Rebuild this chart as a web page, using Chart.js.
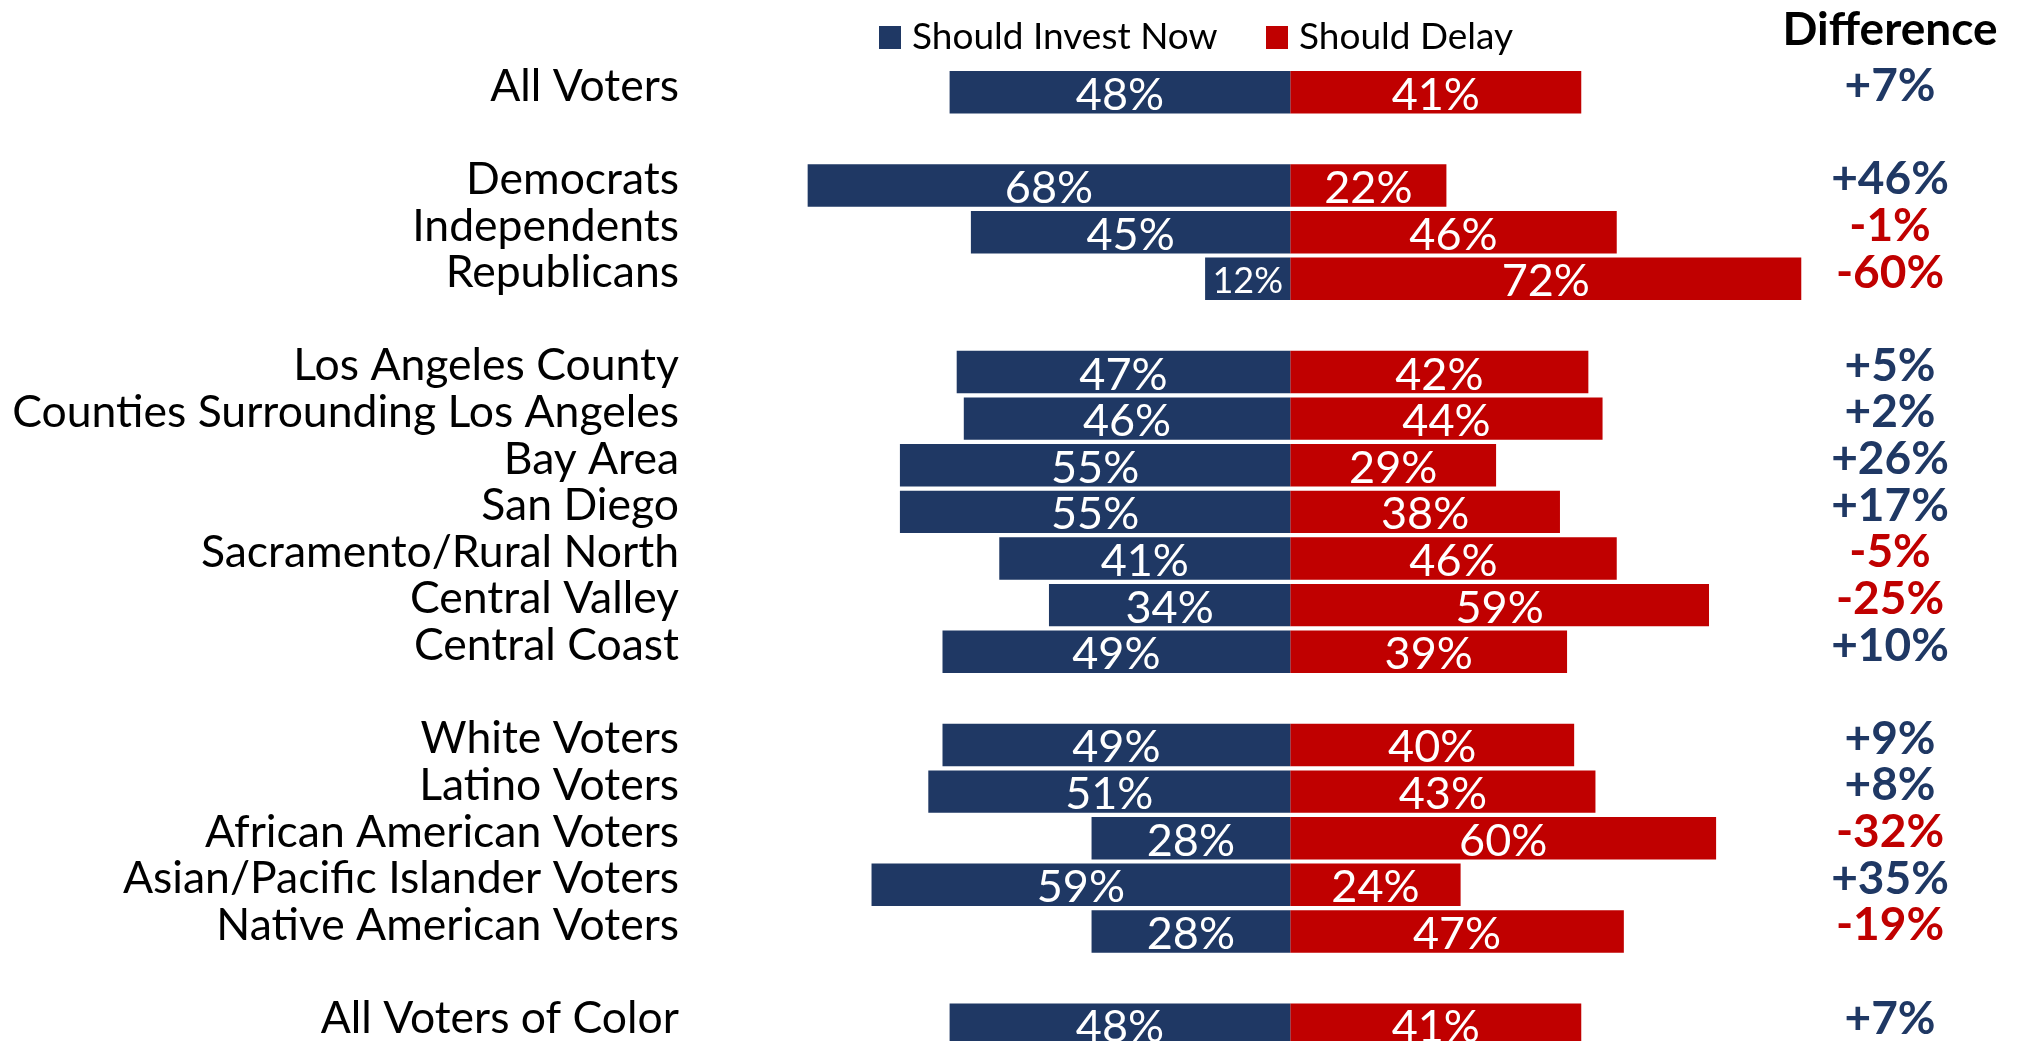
<!DOCTYPE html>
<html>
<head>
<meta charset="utf-8">
<script src="https://cdn.jsdelivr.net/npm/chart.js@4/dist/chart.umd.min.js"></script>
<style>
  html, body { margin: 0; padding: 0; background: #fff; overflow: hidden; }
  canvas { display: block; }
</style>
</head>
<body>
<canvas id="voteChart" width="2019" height="1050"></canvas>
<script>
// Values
const categories = [
  'All Voters', '',
  'Democrats', 'Independents', 'Republicans', '',
  'Los Angeles County', 'Counties Surrounding Los Angeles', 'Bay Area', 'San Diego',
  'Sacramento/Rural North', 'Central Valley', 'Central Coast', '',
  'White Voters', 'Latino Voters', 'African American Voters',
  'Asian/Pacific Islander Voters', 'Native American Voters', '',
  'All Voters of Color'
];
const investNow = [48, null, 68, 45, 12, null, 47, 46, 55, 55, 41, 34, 49, null, 49, 51, 28, 59, 28, null, 48];
const delay     = [41, null, 22, 46, 72, null, 42, 44, 29, 38, 46, 59, 39, null, 40, 43, 60, 24, 47, null, 41];
const difference = ['+7%', '', '+46%', '-1%', '-60%', '', '+5%', '+2%', '+26%', '+17%', '-5%', '-25%', '+10%', '',
                    '+9%', '+8%', '-32%', '+35%', '-19%', '', '+7%'];

const NAVY = '#1F3864';
const RED = '#C00000';
const FONT = 'Lato, "Open Sans", sans-serif';

// white percentages inside the bars, difference column, legend and header
const labelsPlugin = {
  id: 'labels',
  afterDatasetsDraw(chart) {
    const ctx = chart.ctx;
    ctx.save();
    ctx.textAlign = 'center';
    ctx.textBaseline = 'middle';
    ctx.fillStyle = '#fff';
    chart.data.datasets.forEach((ds, i) => {
      chart.getDatasetMeta(i).data.forEach((bar, j) => {
        const v = ds.data[j];
        if (v == null) return;
        const val = Math.abs(v);
        ctx.font = (val < 15 ? '36px ' : '45px ') + FONT;
        ctx.fillText(val + '%', (bar.x + bar.base) / 2, bar.y + 3);
      });
    });

    // difference column
    const yScale = chart.scales.y;
    const colX = chart.width - 129;
    ctx.font = 'bold 46px ' + FONT;
    difference.forEach((d, j) => {
      if (!d) return;
      ctx.fillStyle = d.charAt(0) === '-' ? RED : NAVY;
      ctx.fillText(d, colX, yScale.getPixelForValue(j) - 6);
    });
    ctx.fillStyle = '#000';
    ctx.fillText('Difference', colX, 30);

    // legend
    ctx.textAlign = 'left';
    ctx.font = '37px ' + FONT;
    const items = [[879, NAVY, chart.data.datasets[0].label], [1266, RED, chart.data.datasets[1].label]];
    items.forEach(([x, color, text]) => {
      ctx.fillStyle = color;
      ctx.fillRect(x, 26, 22, 23);
      ctx.fillStyle = '#000';
      ctx.fillText(text, x + 33, 37);
    });
    ctx.restore();
  }
};

const ctx = document.getElementById('voteChart').getContext('2d');
const voteChart = new Chart(ctx, {
  type: 'bar',
  data: {
    labels: categories,
    datasets: [{
      label: 'Should Invest Now',
      data: investNow.map(v => v == null ? null : -v),
      backgroundColor: NAVY,
      barPercentage: 0.91,
      categoryPercentage: 1
    }, {
      label: 'Should Delay',
      data: delay,
      backgroundColor: RED,
      barPercentage: 0.91,
      categoryPercentage: 1
    }]
  },
  options: {
    indexAxis: 'y',
    responsive: false,
    animation: false,
    layout: { padding: { top: 69, bottom: 2, right: 19, left: 0 } },
    plugins: {
      legend: { display: false },
      tooltip: { enabled: false }
    },
    scales: {
      x: {
        stacked: true,
        display: false,
        min: -85,
        max: 100
      },
      y: {
        stacked: true,
        grid: { display: false, drawTicks: false },
        border: { display: false },
        ticks: {
          color: '#000',
          font: { family: FONT, size: 44.5 },
          padding: 8,
          labelOffset: -6,
          autoSkip: false
        },
        afterFit: function(scale) {
          // fixed label column, and no extra room kept for the edge labels
          scale.width = 687;
          scale.paddingTop = 0;
          scale.paddingBottom = 0;
        }
      }
    }
  },
  plugins: [labelsPlugin]
});
</script>
</body>
</html>
